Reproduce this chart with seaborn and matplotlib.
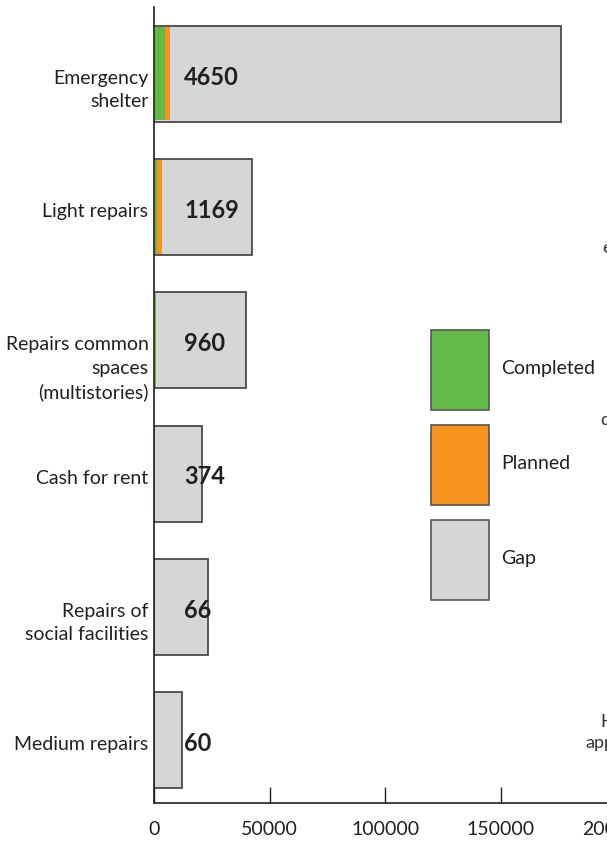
import pandas as pd
import matplotlib
matplotlib.use("Agg")
import matplotlib.pyplot as plt
import matplotlib.patches as mpatches
from matplotlib.transforms import ScaledTranslation
import seaborn as sns

# Values (households / units)
categories = [
    "Emergency\nshelter",
    "Light repairs",
    "Repairs common\nspaces\n(multistories)",
    "Cash for rent",
    "Repairs of\nsocial facilities",
    "Medium repairs",
]
completed = [4700, 1500, 1000, 400, 0, 0]
planned = [2200, 1800, 0, 0, 0, 0]
gap = [169100, 38900, 38650, 20200, 23500, 12000]
bar_labels = ["4650", "1169", "960", "374", "66", "60"]
xticks = [0, 50000, 100000, 150000, 200000]

green = "#62bb47"
orange = "#f7941e"
grey = "#d5d6d6"
edge = "#4a4a4a"
ink = "#231f20"

df = pd.DataFrame({"category": categories, "completed": completed,
                   "planned": planned, "gap": gap})
df["done"] = df["completed"] + df["planned"]
df["total"] = df["done"] + df["gap"]

sns.set_theme(style="white")
plt.rcParams["font.family"] = ["Lato", "DejaVu Sans"]

fig = plt.figure(figsize=(6.07, 8.43), dpi=100)
ax = fig.add_axes([154 / 607, 40 / 843, 462.4 / 607, 796 / 843])

# stacked bars drawn as layered cumulative totals
sns.barplot(df, x="total", y="category", orient="h", color=grey, saturation=1,
            edgecolor=edge, linewidth=1.3, width=0.72, errorbar=None, ax=ax)
sns.barplot(df, x="done", y="category", orient="h", color=orange, saturation=1,
            linewidth=0, width=0.70, errorbar=None, ax=ax)
sns.barplot(df, x="completed", y="category", orient="h", color=green, saturation=1,
            linewidth=0, width=0.70, errorbar=None, ax=ax)

for i, lab in enumerate(bar_labels):
    ax.text(13000, i + 0.025, lab, fontsize=17, fontweight="bold",
            ha="left", va="center", color=ink)

ax.set_xlim(0, 200000)
ax.set_ylim(5.47, -0.5)
ax.set_xlabel("")
ax.set_ylabel("")
ax.set_xticks(xticks)
ax.set_xticklabels([str(t) for t in xticks])

sns.despine(ax=ax)
for side in ["left", "bottom"]:
    ax.spines[side].set_color(ink)
    ax.spines[side].set_linewidth(1.2)

ax.tick_params(axis="x", bottom=True, direction="in", length=11.5, width=1,
               pad=13, labelsize=14, colors=ink)
ax.tick_params(axis="y", left=False, length=0, pad=4, labelsize=14, labelcolor=ink)
shift = ScaledTranslation(0, 4 / 100, fig.dpi_scale_trans)
for lbl in ax.get_yticklabels():
    lbl.set_verticalalignment("top")
    lbl.set_linespacing(1.45)
    lbl.set_transform(lbl.get_transform() + shift)

handles = [
    mpatches.Patch(facecolor=green, edgecolor="#555555", linewidth=1.2, label="Completed"),
    mpatches.Patch(facecolor=orange, edgecolor="#555555", linewidth=1.2, label="Planned"),
    mpatches.Patch(facecolor=grey, edgecolor="#555555", linewidth=1.2, label="Gap"),
]
fig.legend(handles=handles, loc="upper left", bbox_to_anchor=(431 / 607, 1 - 330 / 843),
           frameon=False, fontsize=14, handlelength=3.0, handleheight=5.95,
           labelspacing=0.77, handletextpad=0.6, borderpad=0, borderaxespad=0,
           labelcolor=ink)

# cropped fragments of neighbouring content at the right edge
for x, y, s in [(602, 248, "e"), (600, 420, "d"), (600, 722, "H"), (585, 743, "app")]:
    fig.text(x / 607, 1 - y / 843, s, fontsize=13, color="#333333", ha="left", va="center")

fig.savefig("out.png", dpi=100)
